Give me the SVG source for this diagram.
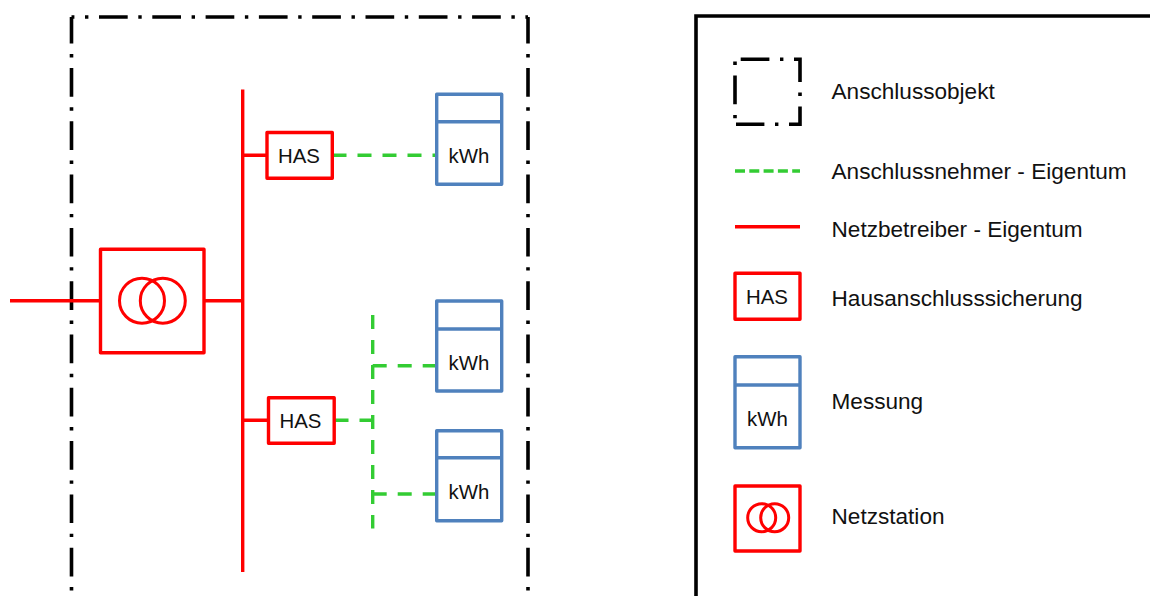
<svg xmlns="http://www.w3.org/2000/svg" width="1150" height="596" viewBox="0 0 1150 596">
<style>
.k{fill:none;stroke:#000;stroke-width:3.6}
.dd{stroke-dasharray:28.7 10.6 3.4 10.6}
.r{fill:none;stroke:#f00;stroke-width:3.4;stroke-linejoin:round}
.g{fill:none;stroke:#33cc33;stroke-width:3.4;stroke-dasharray:14 11}
.b{fill:none;stroke:#4f81bd;stroke-width:3.4;stroke-linejoin:round}
.c{fill:none;stroke:#f00;stroke-width:3}
text{font-family:"Liberation Sans",Arial,sans-serif;fill:#111}
.s{font-size:20.4px;text-anchor:middle}
.l{font-size:22.6px}
</style>
<rect width="1150" height="596" fill="#fff"/>
<g id="anschlussobjekt">
<line class="k dd" x1="71.5" y1="17" x2="528" y2="17" stroke-dashoffset="25.8"/>
<line class="k dd" x1="71.5" y1="17" x2="71.5" y2="596" stroke-dashoffset="2.3"/>
<line class="k dd" x1="528" y1="17" x2="528" y2="596" stroke-dashoffset="2.3"/>
</g>
<g id="connectors">
<path class="r" d="M10 300.7H100M204 300.7H243M242.7 89.5V572M243 155.3H267M243 420.3H268"/>
<path class="g" d="M332.5 155.3H436"/>
<path class="g" d="M334.5 420.3H373"/>
<path class="g" d="M372.7 315V528.5"/>
<path class="g" d="M372.7 365.7H436"/>
<path class="g" d="M372.7 494H436"/>
</g>
<g id="netzstation">
<rect class="r" x="100.5" y="249.3" width="103.5" height="103.4"/>
<circle class="c" cx="142" cy="300.7" r="22.5"/>
<circle class="c" cx="162.8" cy="300.7" r="22.5"/>
</g>
<g id="has1"><rect class="r" x="267" y="132.5" width="65.3" height="45.8"/><text class="s" x="299" y="163">HAS</text></g>
<g id="has2"><rect class="r" x="268.5" y="397.7" width="65.7" height="45.6"/><text class="s" x="300.5" y="428.3">HAS</text></g>
<g id="messung1"><rect class="b" x="436.7" y="94.3" width="65" height="90"/><path class="b" d="M436.7 121.7H501.7"/><text class="s" x="469" y="162.7">kWh</text></g>
<g id="messung2"><rect class="b" x="436.7" y="301" width="65" height="90"/><path class="b" d="M436.7 329H501.7"/><text class="s" x="469" y="370">kWh</text></g>
<g id="messung3"><rect class="b" x="436.7" y="430.7" width="65" height="90"/><path class="b" d="M436.7 457.7H501.7"/><text class="s" x="469" y="499">kWh</text></g>
<g id="legende">
<path class="k" d="M696 596V16H1150"/>
<path class="k dd" d="M735 59.3H800V124.3H736" stroke-dashoffset="47.6"/>
<line class="k" x1="735" y1="124.3" x2="735" y2="59.3" stroke-dasharray="3.4 10.6 28.7 10.6" stroke-dashoffset="47.3"/>
<text class="l" x="831.5" y="99">Anschlussobjekt</text>
<line x1="735" y1="171" x2="800" y2="171" stroke="#33cc33" stroke-width="3.4" stroke-dasharray="10 4.3"/>
<text class="l" x="831.5" y="179">Anschlussnehmer - Eigentum</text>
<line class="r" x1="735" y1="226.7" x2="800" y2="226.7"/>
<text class="l" x="831.5" y="237">Netzbetreiber - Eigentum</text>
<rect class="r" x="735" y="273.3" width="65" height="46"/>
<text class="s" x="767" y="304">HAS</text>
<text class="l" x="831.5" y="306">Hausanschlusssicherung</text>
<rect class="b" x="735" y="356.7" width="65" height="91"/>
<path class="b" d="M735 385H800"/>
<text class="s" x="767.5" y="425.7">kWh</text>
<text class="l" x="831.5" y="409">Messung</text>
<rect class="r" x="735" y="486" width="65" height="65"/>
<circle class="c" cx="761.7" cy="517.7" r="14"/>
<circle class="c" cx="774.7" cy="517.7" r="14"/>
<text class="l" x="831.5" y="524">Netzstation</text>
</g>
</svg>
